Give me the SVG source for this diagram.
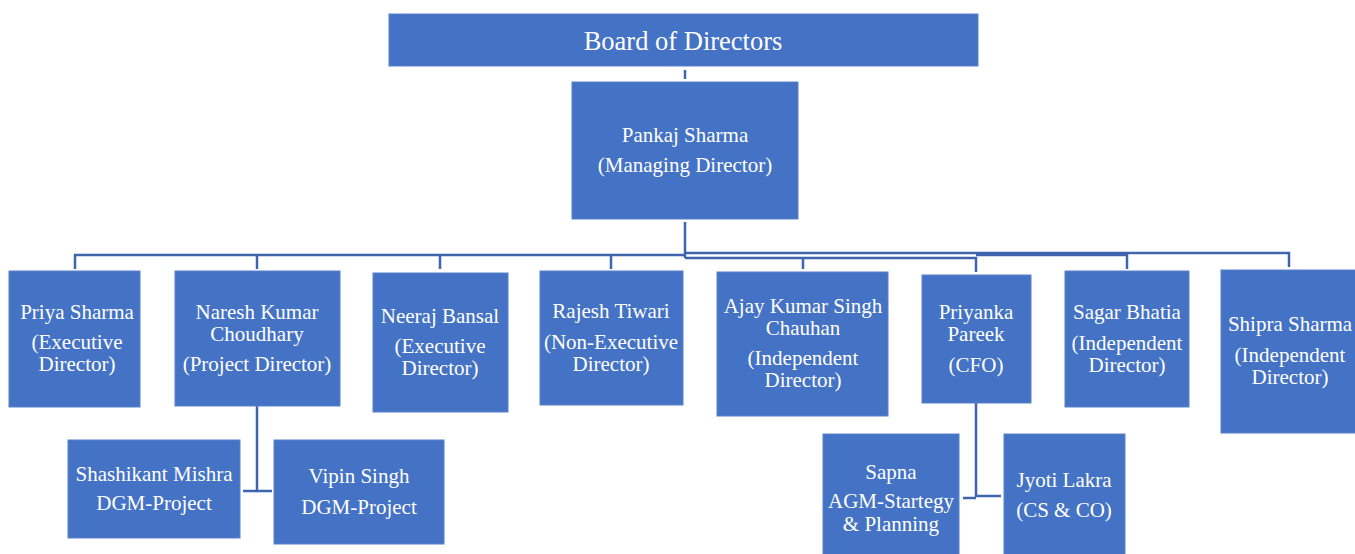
<svg xmlns="http://www.w3.org/2000/svg" width="1355" height="554" viewBox="0 0 1355 554">
<style>
.box{fill:#4472C4;stroke:#5B82CC;stroke-width:1}
.t{font-family:"Liberation Serif","Times New Roman",serif;font-size:21px;fill:#FFFFFF;text-anchor:middle}
.big{font-size:26.5px}
.c{fill:none;stroke:#3F65AE;stroke-width:2.5}
</style>
<rect width="1355" height="554" fill="#FFFFFF"/>
<g id="connectors">
<line class="c" x1="685" y1="70" x2="685" y2="79"/>
<polyline class="c" points="685,222 685,258"/>
<polyline class="c" points="75,269 75,255 685,255"/>
<line class="c" x1="257" y1="255" x2="257" y2="269"/>
<line class="c" x1="440" y1="255" x2="440" y2="269"/>
<line class="c" x1="611" y1="255" x2="611" y2="269"/>
<polyline class="c" points="685,253 1289,253 1289,267"/>
<polyline class="c" points="685,258 976,258 976,272"/>
<line class="c" x1="803" y1="258" x2="803" y2="269"/>
<polyline class="c" points="976,255 1127,255 1127,269"/>
<polyline class="c" points="257,406 257,491 272,491"/>
<line class="c" x1="243" y1="491" x2="257" y2="491"/>
<polyline class="c" points="976,403 976,496 1001,496"/>
<line class="c" x1="963" y1="498" x2="976" y2="498"/>
</g>
<g id="board"><rect class="box" x="389" y="14" width="589" height="52"/><text class="t big" x="683" y="50">Board of Directors</text></g>
<g id="pankaj"><rect class="box" x="572" y="82" width="226" height="137"/><text class="t" x="685" y="142">Pankaj Sharma</text><text class="t" x="685" y="172">(Managing Director)</text></g>
<g id="priya"><rect class="box" x="9" y="271" width="131" height="136"/><text class="t" x="77" y="319">Priya Sharma</text><text class="t" x="77" y="349">(Executive</text><text class="t" x="77" y="371">Director)</text></g>
<g id="naresh"><rect class="box" x="175" y="271" width="165" height="135"/><text class="t" x="257" y="319">Naresh Kumar</text><text class="t" x="257" y="341">Choudhary</text><text class="t" x="257" y="371">(Project Director)</text></g>
<g id="neeraj"><rect class="box" x="373" y="273" width="135" height="139"/><text class="t" x="440" y="323">Neeraj Bansal</text><text class="t" x="440" y="353">(Executive</text><text class="t" x="440" y="375">Director)</text></g>
<g id="rajesh"><rect class="box" x="540" y="271" width="143" height="134"/><text class="t" x="611" y="318">Rajesh Tiwari</text><text class="t" x="611" y="349">(Non-Executive</text><text class="t" x="611" y="371">Director)</text></g>
<g id="ajay"><rect class="box" x="717" y="272" width="171" height="144"/><text class="t" x="803" y="313">Ajay Kumar Singh</text><text class="t" x="803" y="335">Chauhan</text><text class="t" x="803" y="365">(Independent</text><text class="t" x="803" y="387">Director)</text></g>
<g id="priyanka"><rect class="box" x="922" y="275" width="109" height="128"/><text class="t" x="976" y="319">Priyanka</text><text class="t" x="976" y="341">Pareek</text><text class="t" x="976" y="372">(CFO)</text></g>
<g id="sagar"><rect class="box" x="1065" y="271" width="124" height="136"/><text class="t" x="1127" y="319">Sagar Bhatia</text><text class="t" x="1127" y="350">(Independent</text><text class="t" x="1127" y="372">Director)</text></g>
<g id="shipra"><rect class="box" x="1221" y="270" width="140" height="163"/><text class="t" x="1290" y="331">Shipra Sharma</text><text class="t" x="1290" y="362">(Independent</text><text class="t" x="1290" y="384">Director)</text></g>
<g id="shashikant"><rect class="box" x="68" y="440" width="172" height="98"/><text class="t" x="154" y="481">Shashikant Mishra</text><text class="t" x="154" y="510">DGM-Project</text></g>
<g id="vipin"><rect class="box" x="274" y="440" width="170" height="104"/><text class="t" x="359" y="483">Vipin Singh</text><text class="t" x="359" y="514">DGM-Project</text></g>
<g id="sapna"><rect class="box" x="823" y="434" width="136" height="125"/><text class="t" x="891" y="479">Sapna</text><text class="t" x="891" y="508">AGM-Startegy</text><text class="t" x="891" y="531">&amp; Planning</text></g>
<g id="jyoti"><rect class="box" x="1004" y="434" width="121" height="125"/><text class="t" x="1064" y="487">Jyoti Lakra</text><text class="t" x="1064" y="517">(CS &amp; CO)</text></g>
</svg>
